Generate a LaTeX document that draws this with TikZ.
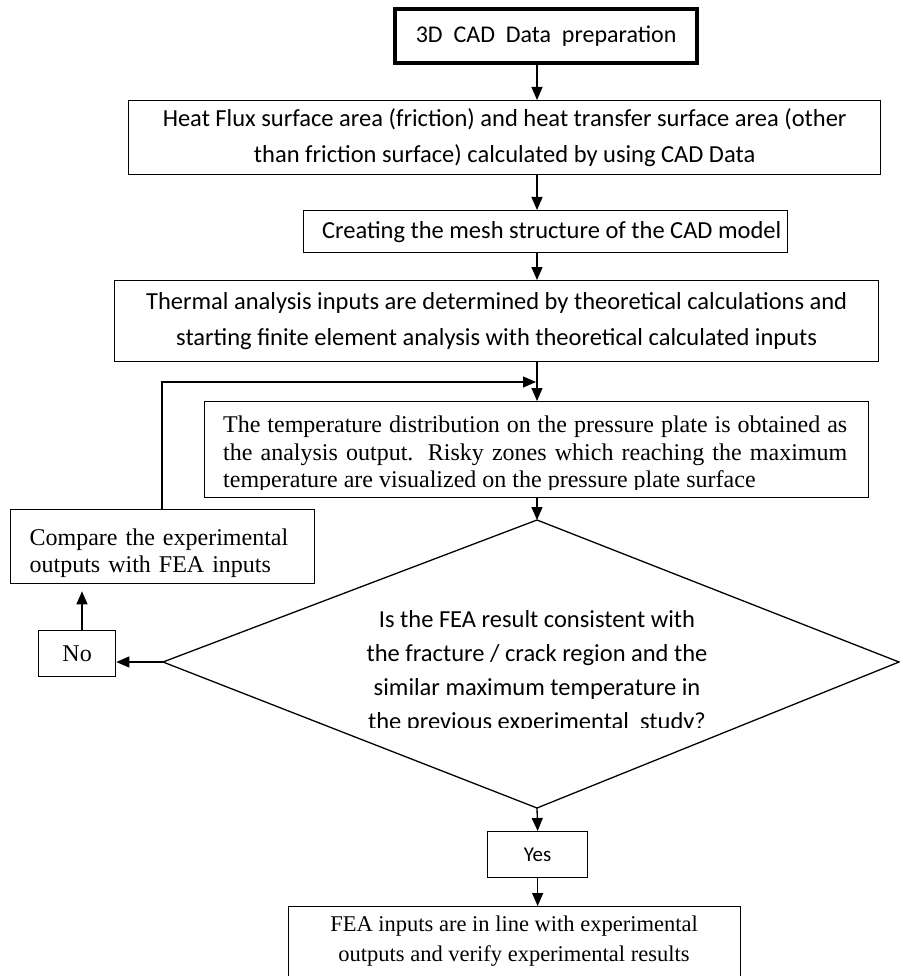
\documentclass[tikz,border=0pt]{standalone}
\usepackage{fontspec}
\setmainfont{Liberation Serif}
\newfontfamily\calib{Carlito}
\usetikzlibrary{arrows.meta,calc}
\hyphenpenalty=10000
\exhyphenpenalty=10000
\begin{document}
\begin{tikzpicture}[x=1pt,y=-1pt,
  box/.style={draw,line width=1.3pt,inner sep=0pt,anchor=north west},
  arr/.style={line width=1.3pt,-{Triangle[length=13pt,width=11pt]}},
  ln/.style={line width=1.3pt},
  sans/.style={font=\fontsize{24.5}{36}\selectfont\calib},
  serif/.style={font=\fontsize{24}{27.5}\selectfont}]
\useasboundingbox (0,0) rectangle (899,976);
\coordinate (ax) at (537,0);
\coordinate (fb) at (162,0);
\coordinate (nx) at (82,0);
\coordinate (top) at (0,382);

% boxes
\node[box,line width=4.3pt,minimum width=302pt,minimum height=54pt,font=\fontsize{24}{28}\selectfont\calib] (b1) at (393,7) {3D\ \ CAD\ \ Data\ \ preparation};
\node[box,minimum width=752pt,minimum height=74pt,sans,align=center] (b2) at (128,100)
  {Heat Flux surface area (friction) and heat transfer surface area (other\\than friction surface) calculated by using CAD Data};
\node[box,minimum width=484pt,minimum height=42pt,sans] (b3) at (303,210) {\hspace*{12pt}Creating the mesh structure of the CAD model};
\node[box,minimum width=764pt,minimum height=81pt,sans,align=center] (b4) at (114,280)
  {Thermal analysis inputs are determined by theoretical calculations and\\starting finite element analysis with theoretical calculated inputs};
\node[box,minimum width=664pt,minimum height=96pt] (b5) at (204,401) {};
\begin{scope}
  \clip (204,401) rectangle (868,489);
  \node[serif,text width=624pt,align=justify,inner sep=0pt,anchor=north west] (t5) at (223,416)
  {The temperature distribution on the pressure plate is obtained as\linebreak the analysis output. Risky zones which reaching the maximum\linebreak temperature are visualized on the pressure plate surface};
\end{scope}
\node[box,minimum width=304pt,minimum height=74pt] (cmp) at (10,509) {};
\node[serif,text width=266pt,align=left,inner sep=0pt,font=\fontsize{24}{27}\selectfont] (tc) at ($(cmp.center)+(0,7)$)
  {\makebox[266pt][s]{Compare the experimental}\\\makebox[266pt][s]{outputs with FEA inputs}};
\node[box,minimum width=77pt,minimum height=46pt,serif] (no) at (38,630) {No};
\coordinate (dt) at (537,520);
\coordinate (dl) at (163,662);
\coordinate (dr) at (899,662);
\coordinate (db) at (537,808);
\draw[ln] (dt) -- (dr) -- (db) -- (dl) -- cycle;
\begin{scope}
  \clip (150,520) rectangle (899,727);
  \node[font=\fontsize{24.5}{34}\selectfont\calib,align=center,inner sep=0pt] (dtext) at (537,672)
  {Is the FEA result consistent with\\the fracture / crack region and the\\similar maximum temperature in\\the previous experimental\ \ study?};
\end{scope}
\node[box,minimum width=100pt,minimum height=46pt,font=\fontsize{21}{24}\selectfont\calib] (yes) at (487,831) {Yes};
\node[box,minimum width=452pt,minimum height=84pt] (fin) at (288,906) {};
\node[align=center,inner sep=0pt,font=\fontsize{22.5}{30}\selectfont,anchor=north] (tf) at (514,916)
  {FEA inputs are in line with experimental\\outputs and verify experimental results};

% connectors
\draw[arr] (b1.south -| ax) -- (b2.north -| ax);
\draw[arr] (b2.south -| ax) -- (b3.north -| ax);
\draw[arr] (b3.south -| ax) -- (b4.north -| ax);
\draw[arr] (b4.south -| ax) -- (b5.north -| ax);
\draw[arr] (b5.south -| ax) -- (dt);
\draw[arr] (db) -- (yes.north);
\draw[arr] (yes.south) -- (fin.north -| yes.south);
\draw[arr] (dl) -- (dl -| no.east);
\draw[arr,shorten >=7pt] (no.north -| nx) -- (cmp.south -| nx);
\draw[arr] (cmp.north -| fb) -- (fb |- top) -- ($(ax |- top)+(-1,0)$);
\end{tikzpicture}
\end{document}
